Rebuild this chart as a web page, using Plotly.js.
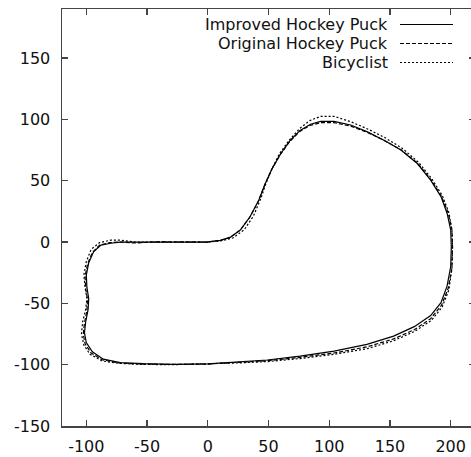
<!DOCTYPE html>
<html>
<head>
<meta charset="utf-8">
<script src="https://cdn.plot.ly/plotly-3.0.1.min.js"></script>
<style>
html, body { margin: 0; padding: 0; overflow: hidden; background: #fff; }
#chart { width: 475px; height: 457px; }
</style>
</head>
<body>
<div id="chart"></div>
<script>
// Series names
const seriesNames = ["Improved Hockey Puck", "Original Hockey Puck", "Bicyclist"];

// Improved Hockey Puck (solid)
const improvedX = [0, -20, -40, -60, -72, -80, -88, -94, -98, -100, -99.5, -98, -98.5, -100.5, -101.5, -100, -95, -86, -72, -53, -28, 0, 27, 49, 76, 104, 131, 153, 170, 183.5, 192, 197, 200, 200.5, 200, 197, 192, 183.5, 172.5, 159, 145, 131, 117.6, 104, 93, 84.6, 76, 68, 60, 53, 47.5, 42, 35, 27, 18.7, 10.4, 2, 0];
const improvedY = [0, 0, 0, -0.5, 0, -1, -2.5, -8, -17, -27, -37, -46, -55, -65, -74, -82, -89.5, -95.5, -98.4, -99.2, -99.7, -99.3, -97.8, -96.2, -93, -89, -83.5, -76.7, -69, -60, -49.5, -36, -20, -4, 10, 23.5, 37, 50.5, 64, 75, 83, 90, 95.4, 98.3, 98.3, 96, 91, 83, 72, 60, 48, 34, 21, 10, 4, 1.4, 0.3, 0];

// Original Hockey Puck (dashed)
const originalX = [0, -20, -40, -60, -72, -81, -89, -95, -99, -101, -100.5, -99, -99.5, -101.5, -102.5, -101, -96, -87, -72, -53, -28, 0, 27, 49, 76, 104, 131, 153, 170, 183.5, 192.5, 198, 201, 201.5, 201, 198, 192.5, 184, 173, 159.5, 145, 131, 117.6, 104, 93, 84, 75.5, 67.5, 59.5, 52.5, 47, 41.5, 34.5, 26.5, 18, 10, 2, 0];
const originalY = [0, 0, 0.3, -0.8, 0, -0.5, -2.5, -8.5, -18, -28, -38, -47, -56, -66, -75, -83, -90.5, -96, -98.8, -99.5, -99.8, -99.5, -98, -96.8, -94, -90.5, -85.5, -79, -71.5, -62.5, -51.5, -37.5, -21, -4, 10, 23.5, 37, 50.5, 64, 75, 83, 89.5, 94.5, 97.3, 97.3, 95, 90, 82, 71, 59, 47, 33, 20, 9.5, 3.5, 1.2, 0.3, 0];

// Bicyclist (dotted)
const bicyclistX = [0, -20, -40, -60, -72, -80, -89, -96, -100, -102, -101, -99.5, -100.5, -103, -104, -102, -97, -87, -72, -53, -28, 0, 27, 49, 76, 104, 131, 153, 170, 184, 193, 198.5, 201, 201.5, 201, 198.5, 193, 184.5, 173.5, 160, 146, 132, 118, 104, 93, 84, 75.5, 67, 59, 53, 48, 43.5, 37.5, 30, 21, 11, 2, 0];
const bicyclistY = [0, 0, 0.3, 0, 1.5, 1.5, -0.5, -6, -16, -27, -37, -46, -55, -65, -75, -84, -91.5, -97, -99, -99.8, -100, -99.5, -98.5, -97.5, -95, -91.5, -87, -80.5, -73, -64, -53, -39, -22, -5, 10, 24, 38, 51.5, 65, 76.5, 85, 92, 98, 102.5, 102.5, 99, 92.5, 83, 72, 60, 48, 35, 21, 10, 3.5, 1, 0.2, 0];

// Tick values and labels (hyphen-minus as in the reference)
const tickValsX = [-100, -50, 0, 50, 100, 150, 200];
const tickTextX = ["-100", "-50", "0", "50", "100", "150", "200"];
const tickValsY = [-150, -100, -50, 0, 50, 100, 150];
const tickTextY = ["-150", "-100", "-50", "0", "50", "100", "150"];

const dashes = ["solid", "4px,2px", "2px,2px"];
const xs = [improvedX, originalX, bicyclistX];
const ys = [improvedY, originalY, bicyclistY];

const traces = seriesNames.map((name, i) => ({
  type: "scatter",
  mode: "lines",
  name: name,
  x: xs[i],
  y: ys[i],
  line: { color: "#000", width: 1.2, dash: dashes[i] },
  hoverinfo: "skip"
}));

const FONT = "DejaVu Sans, Liberation Sans, Arial, sans-serif";

// legend (gnuplot style: text right-aligned, sample on the right)
const legendY = [0.9628, 0.9173, 0.8717];
const annotations = seriesNames.map((name, i) => ({
  xref: "paper", yref: "paper",
  x: 0.7918, y: legendY[i],
  xanchor: "right", yanchor: "middle",
  borderpad: 0,
  text: name, showarrow: false,
  font: { family: FONT, size: 16, color: "#111" }
}));
const shapes = seriesNames.map((name, i) => ({
  type: "line", xref: "paper", yref: "paper",
  x0: 0.8184, x1: 0.9467, y0: legendY[i], y1: legendY[i],
  line: { color: "#000", width: 1.2, dash: dashes[i] }
}));

const axisCommon = {
  showgrid: false, zeroline: false,
  showline: true, linecolor: "#444", linewidth: 1.5,
  mirror: "ticks", ticks: "inside", ticklen: 6, tickwidth: 1.2, tickcolor: "#444",
  tickfont: { family: FONT, size: 16, color: "#111" }
};

const layout = {
  width: 475, height: 457,
  margin: { l: 62, r: 0, t: 9, b: 31, pad: 0 },
  paper_bgcolor: "#fff", plot_bgcolor: "#fff",
  showlegend: false,
  xaxis: Object.assign({}, axisCommon, { range: [-120, 220], tickvals: tickValsX, ticktext: tickTextX, ticklabelstandoff: 5 }),
  yaxis: Object.assign({}, axisCommon, { range: [-150, 190], tickvals: tickValsY, ticktext: tickTextY, ticklabelstandoff: 7 }),
  annotations: annotations,
  shapes: shapes
};

Plotly.newPlot("chart", traces, layout, { staticPlot: true, displayModeBar: false });
</script>
</body>
</html>
